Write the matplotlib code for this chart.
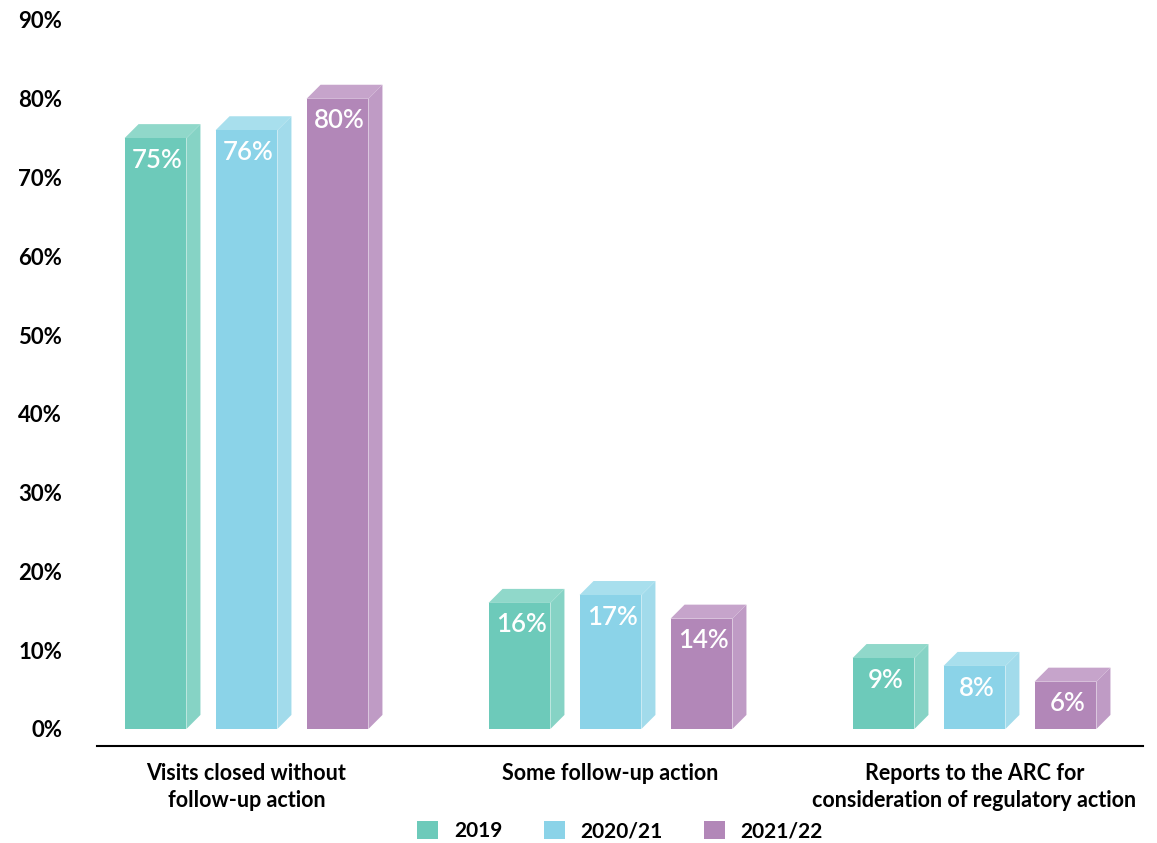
import matplotlib.pyplot as plt
from matplotlib.patches import Polygon, Patch

categories = ['Visits closed without\nfollow-up action', 'Some follow-up action',
              'Reports to the ARC for\nconsideration of regulatory action']
series = ['2019', '2020/21', '2021/22']
values = {
    '2019': [75, 16, 9],
    '2020/21': [76, 17, 8],
    '2021/22': [80, 14, 6],
}
yticks = [0, 10, 20, 30, 40, 50, 60, 70, 80, 90]

front = {'2019': '#6dcaba', '2020/21': '#8bd3e8', '2021/22': '#b287b8'}
side = {'2019': '#86d3c5', '2020/21': '#a2dbeb', '2021/22': '#bf9bc5'}
top = {'2019': '#90d8ca', '2020/21': '#a8dfed', '2021/22': '#c6a4cb'}

plt.rcParams['font.family'] = ['Lato', 'DejaVu Sans']

fig = plt.figure(figsize=(11.57, 8.43), dpi=100)
ax = fig.add_axes([97 / 1157, 1 - 746 / 843, (1143 - 97) / 1157, (746 - 20) / 843])

ax.set_xlim((97 - 246.5) / 91, (1143 - 246.5) / 91)
ax.set_ylim(-17 / 7.86, 90)

w = 0.68
dx = 14 / 91
dy = 14 / 7.86
group_pos = [0, 4, 8]

for gi, g in enumerate(group_pos):
    for si, s in enumerate(series):
        v = values[s][gi]
        xc = g + (si - 1)
        x0, x1 = xc - w / 2, xc + w / 2
        ax.add_patch(Polygon([(x1, 0), (x1 + dx, dy), (x1 + dx, v + dy), (x1, v)],
                             closed=True, facecolor=side[s], edgecolor='none', clip_on=False))
        ax.add_patch(Polygon([(x0, v), (x1, v), (x1 + dx, v + dy), (x0 + dx, v + dy)],
                             closed=True, facecolor=top[s], edgecolor='none', clip_on=False))
        ax.add_patch(Polygon([(x0, 0), (x1, 0), (x1, v), (x0, v)],
                             closed=True, facecolor=front[s], edgecolor='none', clip_on=False))
        ax.text(xc + 0.02, v - 2.8, f'{v}%', ha='center', va='center', color='white',
                fontsize=18.5, fontweight='semibold')

for g, c in zip(group_pos, categories):
    ax.text(g, -0.024, c, transform=ax.get_xaxis_transform(), ha='center', va='top',
            fontsize=15.5, fontweight='bold', linespacing=1.3)

ax.set_yticks(yticks)
ax.set_yticklabels([f'{t}%' for t in yticks], fontsize=16, fontweight='bold')
ax.tick_params(axis='y', length=0, pad=25)
ax.set_xticks([])
for sp in ['top', 'right', 'left']:
    ax.spines[sp].set_visible(False)
ax.spines['bottom'].set_linewidth(1.5)

handles = [Patch(facecolor=front[s], label=s) for s in series]
leg = fig.legend(handles=handles, loc='center', bbox_to_anchor=(0.536, 1 - 831 / 843),
                 ncol=3, frameon=False, handlelength=1.0, handleheight=1.0,
                 columnspacing=2.0, handletextpad=0.75, prop={'size': 15, 'weight': 'bold'})

fig.savefig('out.png', dpi=100)
